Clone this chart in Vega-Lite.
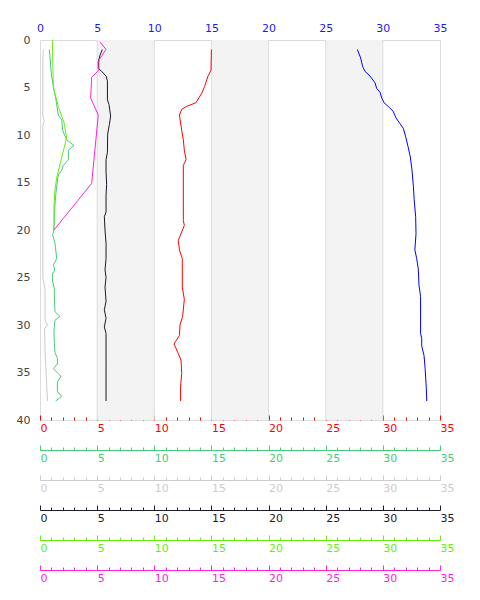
{
  "$schema": "https://vega.github.io/schema/vega-lite/v6.json",
  "width": 400,
  "height": 380,
  "autosize": {"type": "none"},
  "padding": {"left": 40, "top": 40, "right": 40, "bottom": 180},
  "config": {
    "view": {"stroke": "#dddddd"},
    "font": "DejaVu Sans",
    "axis": {"labelFont": "DejaVu Sans", "labelFontSize": 11, "title": null, "grid": false}
  },
  "datasets": {
    "bands": [{"a": 5, "b": 10}, {"a": 15, "b": 20}, {"a": 25, "b": 30}],
    "grid": [{"v": 5}, {"v": 10}, {"v": 15}, {"v": 20}, {"v": 25}, {"v": 30}],
    "blue": [
      {"d": 1, "v": 27.77}, {"d": 1.9, "v": 28.06}, {"d": 2.8, "v": 28.23}, {"d": 3.3, "v": 28.44},
      {"d": 3.8, "v": 28.88}, {"d": 4.5, "v": 29.31}, {"d": 5.1, "v": 29.46}, {"d": 5.5, "v": 29.75},
      {"d": 6.1, "v": 29.9}, {"d": 6.6, "v": 30.1}, {"d": 7.1, "v": 30.56}, {"d": 7.5, "v": 30.9},
      {"d": 8.2, "v": 31.15}, {"d": 8.8, "v": 31.5}, {"d": 9.3, "v": 31.79}, {"d": 10.2, "v": 32.0},
      {"d": 11.2, "v": 32.2}, {"d": 12.3, "v": 32.4}, {"d": 13.7, "v": 32.55}, {"d": 15.4, "v": 32.67},
      {"d": 16.8, "v": 32.74}, {"d": 18.6, "v": 32.87}, {"d": 20.4, "v": 32.9}, {"d": 22.1, "v": 32.8},
      {"d": 23, "v": 32.96}, {"d": 24.1, "v": 33.1}, {"d": 25.8, "v": 33.16}, {"d": 27, "v": 33.3},
      {"d": 30.9, "v": 33.3}, {"d": 31.4, "v": 33.4}, {"d": 32.2, "v": 33.4}, {"d": 33.2, "v": 33.6},
      {"d": 34.6, "v": 33.7}, {"d": 35.6, "v": 33.75}, {"d": 36.6, "v": 33.8}, {"d": 38, "v": 33.84}
    ],
    "red": [
      {"d": 1, "v": 15.0}, {"d": 3.2, "v": 14.96}, {"d": 3.8, "v": 14.7}, {"d": 4.9, "v": 14.4},
      {"d": 5.6, "v": 14.15}, {"d": 6.1, "v": 13.9}, {"d": 6.6, "v": 13.65}, {"d": 7.0, "v": 12.8},
      {"d": 7.3, "v": 12.4}, {"d": 7.9, "v": 12.2}, {"d": 9.5, "v": 12.4}, {"d": 10.5, "v": 12.54},
      {"d": 11.6, "v": 12.63}, {"d": 12.6, "v": 12.78}, {"d": 13.2, "v": 12.54}, {"d": 19.0, "v": 12.54},
      {"d": 19.5, "v": 12.63}, {"d": 20.2, "v": 12.4}, {"d": 21.1, "v": 12.1}, {"d": 22.1, "v": 12.2},
      {"d": 23.0, "v": 12.45}, {"d": 26, "v": 12.45}, {"d": 27.3, "v": 12.63}, {"d": 29.1, "v": 12.48},
      {"d": 30.0, "v": 12.25}, {"d": 31.1, "v": 12.2}, {"d": 32.0, "v": 11.73}, {"d": 33.0, "v": 12.1},
      {"d": 33.7, "v": 12.34}, {"d": 35.1, "v": 12.4}, {"d": 36.5, "v": 12.3}, {"d": 38, "v": 12.3}
    ],
    "black": [
      {"d": 1.0, "v": 5.45}, {"d": 1.6, "v": 5.25}, {"d": 2.3, "v": 5.1}, {"d": 3.0, "v": 5.1},
      {"d": 3.3, "v": 5.4}, {"d": 3.8, "v": 5.78}, {"d": 4.3, "v": 5.9}, {"d": 6.3, "v": 5.9},
      {"d": 6.8, "v": 6.04}, {"d": 8.0, "v": 6.18}, {"d": 8.9, "v": 6.07}, {"d": 9.9, "v": 5.92},
      {"d": 11.8, "v": 5.9}, {"d": 12.6, "v": 5.78}, {"d": 13.9, "v": 5.78}, {"d": 15.2, "v": 5.83},
      {"d": 16.3, "v": 5.78}, {"d": 18.1, "v": 5.78}, {"d": 18.6, "v": 5.63}, {"d": 20, "v": 5.69},
      {"d": 21.4, "v": 5.78}, {"d": 23, "v": 5.78}, {"d": 24.2, "v": 5.69}, {"d": 25, "v": 5.78},
      {"d": 26, "v": 5.69}, {"d": 27.5, "v": 5.78}, {"d": 28.4, "v": 5.63}, {"d": 29.3, "v": 5.78},
      {"d": 30.2, "v": 5.63}, {"d": 30.9, "v": 5.78}, {"d": 34.2, "v": 5.78}, {"d": 38, "v": 5.78}
    ],
    "magenta": [
      {"d": 0.2, "v": 5.25}, {"d": 1.0, "v": 5.78}, {"d": 2.1, "v": 5.16}, {"d": 3.2, "v": 5.16},
      {"d": 3.9, "v": 4.52}, {"d": 6.1, "v": 4.43}, {"d": 7.9, "v": 5.1}, {"d": 15.1, "v": 4.52},
      {"d": 20.0, "v": 1.22}
    ],
    "lime": [
      {"d": 0, "v": 1.08}, {"d": 5.0, "v": 1.17}, {"d": 7.0, "v": 1.6}, {"d": 8.7, "v": 2.1},
      {"d": 10.3, "v": 2.33}, {"d": 14.5, "v": 1.46}, {"d": 15.8, "v": 1.31}, {"d": 17.5, "v": 1.22},
      {"d": 20, "v": 1.22}
    ],
    "green": [
      {"d": 1.0, "v": 0.82}, {"d": 3.7, "v": 1.0}, {"d": 4.9, "v": 1.17}, {"d": 6.3, "v": 1.4},
      {"d": 7.9, "v": 1.6}, {"d": 8.4, "v": 1.9}, {"d": 9.5, "v": 1.98}, {"d": 10.5, "v": 2.33},
      {"d": 11.1, "v": 2.98}, {"d": 11.6, "v": 2.48}, {"d": 12.6, "v": 2.48}, {"d": 13.2, "v": 2.04},
      {"d": 13.7, "v": 1.9}, {"d": 14.2, "v": 1.6}, {"d": 15.4, "v": 1.46}, {"d": 16.1, "v": 1.4},
      {"d": 17, "v": 1.33}, {"d": 18, "v": 1.28}, {"d": 19, "v": 1.25}, {"d": 20, "v": 1.22},
      {"d": 20.5, "v": 1.1}, {"d": 21.4, "v": 1.31}, {"d": 23.0, "v": 1.46}, {"d": 23.7, "v": 1.17},
      {"d": 24.2, "v": 1.31}, {"d": 24.6, "v": 1.1}, {"d": 25.4, "v": 1.1}, {"d": 26.1, "v": 1.25},
      {"d": 26.9, "v": 1.25}, {"d": 28.6, "v": 1.31}, {"d": 29.1, "v": 1.75}, {"d": 29.5, "v": 1.31},
      {"d": 30.7, "v": 1.22}, {"d": 31.9, "v": 1.25}, {"d": 32.9, "v": 1.31}, {"d": 33.5, "v": 1.52},
      {"d": 34.1, "v": 1.52}, {"d": 34.6, "v": 1.17}, {"d": 35.4, "v": 1.84}, {"d": 36.0, "v": 1.52},
      {"d": 37.0, "v": 1.52}, {"d": 37.5, "v": 1.9}, {"d": 38.0, "v": 1.37}
    ],
    "gray": [
      {"d": 1, "v": 0.3}, {"d": 2, "v": 0.25}, {"d": 8, "v": 0.25}, {"d": 8.5, "v": 0.37},
      {"d": 9, "v": 0.25}, {"d": 25, "v": 0.25}, {"d": 26.2, "v": 0.44}, {"d": 29.5, "v": 0.44},
      {"d": 30, "v": 0.66}, {"d": 30.4, "v": 0.4}, {"d": 33, "v": 0.45}, {"d": 36.2, "v": 0.58},
      {"d": 38, "v": 0.66}
    ]
  },
  "resolve": {"axis": {"x": "independent", "y": "independent"}},
  "layer": [
    {
      "data": {"name": "bands"},
      "mark": {"type": "rect", "fill": "#f3f3f3"},
      "encoding": {
        "x": {"field": "a", "type": "quantitative", "scale": {"domain": [0, 35], "nice": false, "zero": false}, "axis": null},
        "x2": {"field": "b"}
      }
    },
    {
      "data": {"name": "grid"},
      "mark": {"type": "rule", "stroke": "#dddddd", "strokeWidth": 1},
      "encoding": {
        "x": {"field": "v", "type": "quantitative", "axis": null}
      }
    },
    {
      "data": {"name": "gray"},
      "mark": {"type": "line", "stroke": "#cccccc", "strokeWidth": 1},
      "encoding": {
        "x": {"field": "v", "type": "quantitative",
          "axis": {"orient": "bottom", "offset": 60, "values": [0,1,2,3,4,5,6,7,8,9,10,11,12,13,14,15,16,17,18,19,20,21,22,23,24,25,26,27,28,29,30,31,32,33,34,35],
            "tickSize": {"condition": {"test": "datum.value % 5 === 0", "value": -5}, "value": -3},
            "labelExpr": "datum.value % 5 === 0 ? datum.label : ''", "labelAlign": "left", "labelBaseline": "top", "labelPadding": 7,
            "labelFlush": false, "labelOverlap": false, "labelBound": false,
            "domainColor": "#cccccc", "tickColor": "#cccccc", "labelColor": "#cccccc"}},
        "y": {"field": "d", "type": "quantitative", "scale": {"domain": [0, 40], "reverse": true, "nice": false, "zero": false},
          "axis": {"orient": "left", "values": [0,5,10,15,20,25,30,35,40], "ticks": false, "domain": false, "labelPadding": 10,
            "labelColor": "#444444", "labelFontSize": 11, "labelFlush": false, "labelOverlap": false, "labelBound": false}},
        "order": {"field": "d", "type": "quantitative"}
      }
    },
    {
      "data": {"name": "green"},
      "mark": {"type": "line", "stroke": "#44cc77", "strokeWidth": 1},
      "encoding": {
        "x": {"field": "v", "type": "quantitative",
          "axis": {"orient": "bottom", "offset": 30, "values": [0,1,2,3,4,5,6,7,8,9,10,11,12,13,14,15,16,17,18,19,20,21,22,23,24,25,26,27,28,29,30,31,32,33,34,35],
            "tickSize": {"condition": {"test": "datum.value % 5 === 0", "value": -5}, "value": -3},
            "labelExpr": "datum.value % 5 === 0 ? datum.label : ''", "labelAlign": "left", "labelBaseline": "top", "labelPadding": 7,
            "labelFlush": false, "labelOverlap": false, "labelBound": false,
            "domainColor": "#44cc77", "tickColor": "#44cc77", "labelColor": "#44cc77"}},
        "y": {"field": "d", "type": "quantitative", "axis": null},
        "order": {"field": "d", "type": "quantitative"}
      }
    },
    {
      "data": {"name": "lime"},
      "mark": {"type": "line", "stroke": "#66ee11", "strokeWidth": 1},
      "encoding": {
        "x": {"field": "v", "type": "quantitative",
          "axis": {"orient": "bottom", "offset": 120, "values": [0,1,2,3,4,5,6,7,8,9,10,11,12,13,14,15,16,17,18,19,20,21,22,23,24,25,26,27,28,29,30,31,32,33,34,35],
            "tickSize": {"condition": {"test": "datum.value % 5 === 0", "value": -5}, "value": -3},
            "labelExpr": "datum.value % 5 === 0 ? datum.label : ''", "labelAlign": "left", "labelBaseline": "top", "labelPadding": 7,
            "labelFlush": false, "labelOverlap": false, "labelBound": false,
            "domainColor": "#66ee11", "tickColor": "#66ee11", "labelColor": "#66ee11"}},
        "y": {"field": "d", "type": "quantitative", "axis": null},
        "order": {"field": "d", "type": "quantitative"}
      }
    },
    {
      "data": {"name": "black"},
      "mark": {"type": "line", "stroke": "#1a1a2a", "strokeWidth": 1},
      "encoding": {
        "x": {"field": "v", "type": "quantitative",
          "axis": {"orient": "bottom", "offset": 90, "values": [0,1,2,3,4,5,6,7,8,9,10,11,12,13,14,15,16,17,18,19,20,21,22,23,24,25,26,27,28,29,30,31,32,33,34,35],
            "tickSize": {"condition": {"test": "datum.value % 5 === 0", "value": -5}, "value": -3},
            "labelExpr": "datum.value % 5 === 0 ? datum.label : ''", "labelAlign": "left", "labelBaseline": "top", "labelPadding": 7,
            "labelFlush": false, "labelOverlap": false, "labelBound": false,
            "domainColor": "#1a1a2a", "tickColor": "#1a1a2a", "labelColor": "#1a1a2a"}},
        "y": {"field": "d", "type": "quantitative", "axis": null},
        "order": {"field": "d", "type": "quantitative"}
      }
    },
    {
      "data": {"name": "magenta"},
      "mark": {"type": "line", "stroke": "#ff22dd", "strokeWidth": 1},
      "encoding": {
        "x": {"field": "v", "type": "quantitative",
          "axis": {"orient": "bottom", "offset": 150, "values": [0,1,2,3,4,5,6,7,8,9,10,11,12,13,14,15,16,17,18,19,20,21,22,23,24,25,26,27,28,29,30,31,32,33,34,35],
            "tickSize": {"condition": {"test": "datum.value % 5 === 0", "value": -5}, "value": -3},
            "labelExpr": "datum.value % 5 === 0 ? datum.label : ''", "labelAlign": "left", "labelBaseline": "top", "labelPadding": 7,
            "labelFlush": false, "labelOverlap": false, "labelBound": false,
            "domainColor": "#ff22dd", "tickColor": "#ff22dd", "labelColor": "#ff22dd"}},
        "y": {"field": "d", "type": "quantitative", "axis": null},
        "order": {"field": "d", "type": "quantitative"}
      }
    },
    {
      "data": {"name": "red"},
      "mark": {"type": "line", "stroke": "#ff0000", "strokeWidth": 1},
      "encoding": {
        "x": {"field": "v", "type": "quantitative",
          "axis": {"orient": "bottom", "offset": 0, "domain": false, "values": [0,1,2,3,4,5,6,7,8,9,10,11,12,13,14,15,16,17,18,19,20,21,22,23,24,25,26,27,28,29,30,31,32,33,34,35],
            "tickSize": {"condition": {"test": "datum.value % 5 === 0", "value": -5}, "value": -3},
            "labelExpr": "datum.value % 5 === 0 ? datum.label : ''", "labelAlign": "left", "labelBaseline": "top", "labelPadding": 7,
            "labelFlush": false, "labelOverlap": false, "labelBound": false,
            "tickColor": "#ff0000", "labelColor": "#ff0000"}},
        "y": {"field": "d", "type": "quantitative", "axis": null},
        "order": {"field": "d", "type": "quantitative"}
      }
    },
    {
      "data": {"name": "blue"},
      "mark": {"type": "line", "stroke": "#0000ff", "strokeWidth": 1},
      "encoding": {
        "x": {"field": "v", "type": "quantitative",
          "axis": {"orient": "top", "values": [0,5,10,15,20,25,30,35], "ticks": false, "domain": false, "labelPadding": 7,
            "labelFlush": false, "labelOverlap": false, "labelBound": false, "labelColor": "#1a1aee"}},
        "y": {"field": "d", "type": "quantitative", "axis": null},
        "order": {"field": "d", "type": "quantitative"}
      }
    }
  ]
}
